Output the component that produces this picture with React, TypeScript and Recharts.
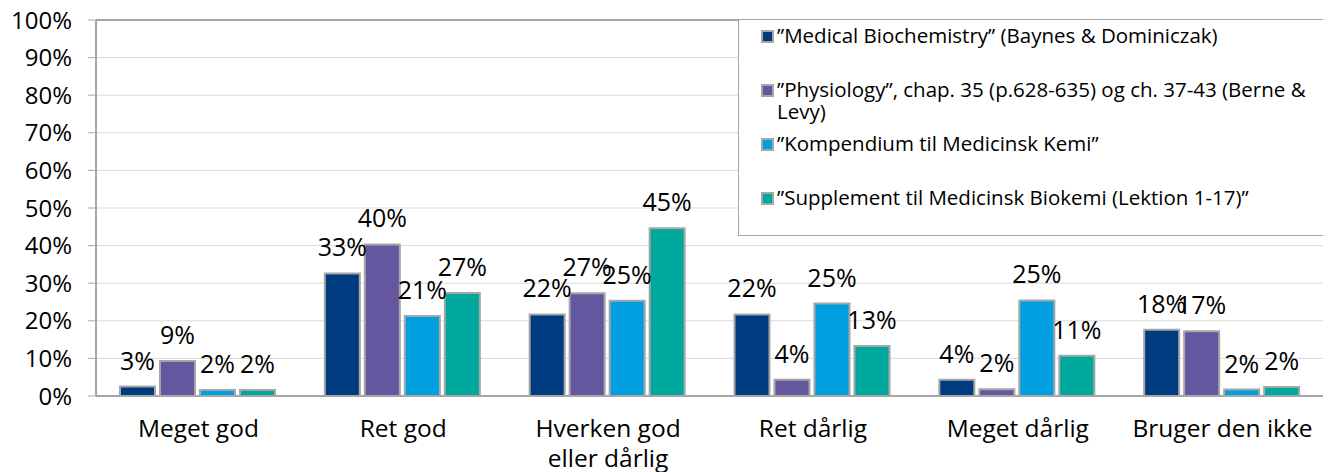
import React from "react";
import {
  BarChart,
  Bar,
  XAxis,
  YAxis,
  CartesianGrid,
  Legend,
  LabelList,
  ReferenceLine,
} from "recharts";

// answer categories (x axis)
const categories = [
  "Meget god",
  "Ret god",
  "Hverken god eller dårlig",
  "Ret dårlig",
  "Meget dårlig",
  "Bruger den ikke",
];

// share of answers in percent, one list per book
const baynes = [2.5, 32.6, 21.7, 21.7, 4.3, 17.6];
const berneLevy = [9.3, 40.3, 27.3, 4.3, 1.8, 17.2];
const kompendium = [1.6, 21.3, 25.3, 24.6, 25.4, 1.7];
const supplement = [1.6, 27.4, 44.6, 13.3, 10.7, 2.4];

const yTicks = [0, 10, 20, 30, 40, 50, 60, 70, 80, 90, 100];

const SERIES = [
  { key: "baynes", name: "\u201DMedical Biochemistry\u201D (Baynes & Dominiczak)", color: "#003b80", values: baynes },
  { key: "berneLevy", name: "\u201DPhysiology\u201D, chap. 35 (p.628-635) og ch. 37-43 (Berne & Levy)", color: "#64579f", values: berneLevy },
  { key: "kompendium", name: "\u201DKompendium til Medicinsk Kemi\u201D", color: "#009fe0", values: kompendium },
  { key: "supplement", name: "\u201DSupplement til Medicinsk Biokemi (Lektion 1-17)\u201D", color: "#00a99e", values: supplement },
];

const data = categories.map((c, i) => {
  const row: Record<string, string | number> = { category: c };
  SERIES.forEach((s) => {
    row[s.key] = s.values[i];
  });
  return row;
});

const FONT = "'Open Sans', sans-serif";
const BORDER = "#a6a6a6";

function wrapWords(text: string, max: number) {
  const lines: string[] = [];
  let cur = "";
  text.split(" ").forEach((w) => {
    const next = cur ? cur + " " + w : w;
    if (next.length > max && cur) {
      lines.push(cur);
      cur = w;
    } else {
      cur = next;
    }
  });
  if (cur) lines.push(cur);
  return lines;
}

function CategoryTick(props: any) {
  const { x, y, payload } = props;
  const lines = wrapWords(String(payload.value), 15);
  return (
    <text x={x} y={y} textAnchor="middle" fill="#000" fontSize={24.5} fontFamily={FONT}>
      {lines.map((l, i) => (
        <tspan key={i} x={x} dy={i === 0 ? 41 : 30}>
          {l}
        </tspan>
      ))}
    </text>
  );
}

function LegendBox() {
  return (
    <div
      style={{
        boxSizing: "border-box",
        width: 587,
        height: 216,
        background: "#fff",
        borderLeft: `1.5px solid ${BORDER}`,
        borderBottom: `1.5px solid ${BORDER}`,
        paddingLeft: 22,
        fontFamily: FONT,
        fontSize: 20.5,
        color: "#000",
        textAlign: "left",
      }}
    >
      {SERIES.map((s) => (
        <div key={s.key} style={{ height: 54, paddingTop: 4, boxSizing: "border-box", display: "flex", alignItems: "flex-start" }}>
          <span
            style={{
              display: "inline-block",
              width: 9,
              height: 9,
              background: s.color,
              border: `2px solid ${BORDER}`,
              marginTop: 6,
              marginRight: 3,
              flex: "none",
            }}
          />
          <span style={{ lineHeight: "22px", maxWidth: 545 }}>{s.name}</span>
        </div>
      ))}
    </div>
  );
}

export default function App() {
  return (
    <div style={{ width: 1323, height: 464, fontFamily: FONT }}>
      <BarChart
        width={1323}
        height={464}
        data={data}
        margin={{ top: 12, right: 0, left: 0, bottom: 0 }}
        barCategoryGap={24}
        barGap={5}
      >
        <CartesianGrid vertical={false} stroke="#d9d9d9" />
        <XAxis
          dataKey="category"
          height={76}
          axisLine={{ stroke: BORDER, strokeWidth: 2 }}
          tickLine={false}
          tickSize={0}
          tickMargin={0}
          interval={0}
          tick={<CategoryTick />}
        />
        <YAxis
          width={88}
          domain={[0, 100]}
          ticks={yTicks}
          interval={0}
          tickFormatter={(v) => `${v}%`}
          axisLine={{ stroke: BORDER, strokeWidth: 2 }}
          tickLine={{ stroke: BORDER }}
          tickSize={8}
          tickMargin={16}
          tick={{ fill: "#000", fontSize: 24, fontFamily: FONT }}
        />
        <YAxis
          yAxisId="right"
          orientation="right"
          width={6}
          domain={[0, 100]}
          tick={false}
          tickLine={false}
          axisLine={{ stroke: BORDER, strokeWidth: 2 }}
        />
        <ReferenceLine y={100} stroke={BORDER} strokeWidth={2} />
        <Legend
          layout="vertical"
          align="center"
          verticalAlign="middle"
          wrapperStyle={{ left: 730, top: 12, width: 587, height: 216 }}
          content={() => <LegendBox />}
        />
        {SERIES.map((s) => (
          <Bar
            key={s.key}
            dataKey={s.key}
            name={s.name}
            fill={s.color}
            stroke={BORDER}
            strokeWidth={2}
            isAnimationActive={false}
          >
            <LabelList
              dataKey={s.key}
              position="top"
              offset={17}
              formatter={(v: any) => `${Math.round(Number(v))}%`}
              style={{ fill: "#000", fontSize: 25, fontFamily: FONT }}
            />
          </Bar>
        ))}
      </BarChart>
    </div>
  );
}
